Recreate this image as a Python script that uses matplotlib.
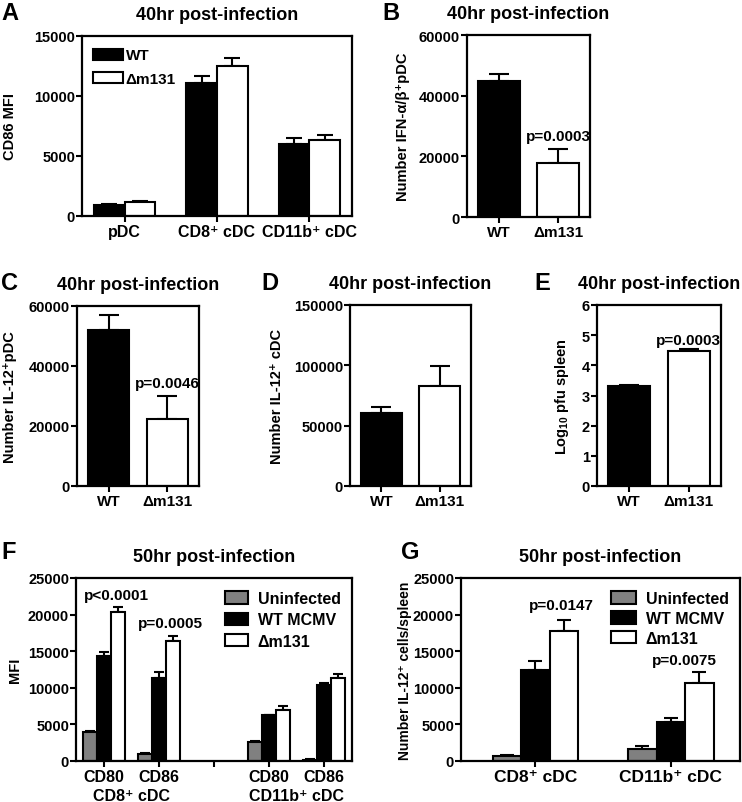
import matplotlib
matplotlib.use("Agg")
import matplotlib.pyplot as plt
from matplotlib.patches import Patch
import numpy as np

plt.rcParams['font.family'] = ['Liberation Sans', 'DejaVu Sans']
plt.rcParams['font.weight'] = 'bold'
plt.rcParams['axes.labelweight'] = 'bold'
plt.rcParams['axes.titleweight'] = 'bold'
plt.rcParams['mathtext.fontset'] = 'custom'
plt.rcParams['mathtext.rm'] = 'Liberation Sans:bold'
plt.rcParams['mathtext.it'] = 'Liberation Sans:bold'
plt.rcParams['mathtext.bf'] = 'Liberation Sans:bold'
plt.rcParams['mathtext.default'] = 'rm'

# ---------------- data ----------------
title40 = "40hr post-infection"
title50 = "50hr post-infection"

# A
a_cats = ["pDC", "CD8⁺ cDC", "CD11b⁺ cDC"]
a_wt = [950, 11050, 6000]
a_wt_err = [80, 650, 500]
a_mut = [1150, 12500, 6300]
a_mut_err = [80, 660, 450]

# B
b_cats = ["WT", "Δm131"]
b_vals = [44800, 17800]
b_err = [2300, 4700]
b_p = "p=0.0003"

# C
c_cats = ["WT", "Δm131"]
c_vals = [52000, 22500]
c_err = [4900, 7500]
c_p = "p=0.0046"

# D
d_cats = ["WT", "Δm131"]
d_vals = [60600, 82700]
d_err = [4700, 17100]

# E
e_cats = ["WT", "Δm131"]
e_vals = [3.33, 4.48]
e_err = [0.03, 0.07]
e_p = "p=0.0003"

# F
f_cats = ["CD80", "CD86", "", "CD80", "CD86"]
f_groups = ["CD8⁺ cDC", "CD11b⁺ cDC"]
f_uninf = [3950, 1000, np.nan, 2650, 180]
f_uninf_err = [120, 80, np.nan, 100, 30]
f_wt = [14400, 11400, np.nan, 6250, 10400]
f_wt_err = [450, 700, np.nan, 100, 300]
f_mut = [20400, 16400, np.nan, 7000, 11300]
f_mut_err = [700, 700, np.nan, 450, 600]
f_p = ["p<0.0001", "p=0.0005"]

# G
g_cats = ["CD8⁺ cDC", "CD11b⁺ cDC"]
g_uninf = [680, 1600]
g_uninf_err = [140, 500]
g_wt = [12500, 5300]
g_wt_err = [1200, 600]
g_mut = [17800, 10600]
g_mut_err = [1500, 1600]
g_p = ["p=0.0147", "p=0.0075"]

series_labels_A = ["WT", "Δm131"]
series_labels_FG = ["Uninfected", "WT MCMV", "Δm131"]
GRAY = "#808080"

W, H = 742, 803
fig = plt.figure(figsize=(W / 100, H / 100), dpi=100)

YT = 10.5
XT = 11.5
PFS = 11


def make_ax(l, r, t, b):
    return fig.add_axes([l / W, 1 - b / H, (r - l) / W, (b - t) / H])


def style(ax, ytick_fs=YT, xtick_fs=XT):
    for s in ax.spines.values():
        s.set_linewidth(1.6)
    ax.tick_params(axis='both', width=1.5, length=4, direction='out')
    ax.tick_params(axis='y', labelsize=ytick_fs, pad=1)
    ax.tick_params(axis='x', labelsize=xtick_fs, pad=2)
    for lab in ax.get_yticklabels() + ax.get_xticklabels():
        lab.set_fontweight('bold')


def ylab(ax, text, center_px, left_px, width_px, fs=10.5):
    ax.set_ylabel(text, fontsize=fs)
    ax.yaxis.label.set_verticalalignment('center')
    ax.yaxis.set_label_coords((center_px - left_px) / width_px, 0.5)


def bars(ax, x, vals, errs, width, color, capsize):
    ax.bar(x, vals, width, color=color, edgecolor='black', linewidth=1.5, zorder=2)
    ax.errorbar(x, vals, yerr=[np.zeros(len(vals)), errs], fmt='none',
                ecolor='black', elinewidth=1.5, capsize=capsize, capthick=1.5, zorder=1)


def letter(x, y, s):
    fig.text(x / W, 1 - y / H, s, fontsize=17, fontweight='bold', va='top', ha='left')


# ---------- A ----------
ax = make_ax(82, 352, 37, 217)
x = np.arange(len(a_cats))
w = 0.33
bars(ax, x - w / 2, a_wt, a_wt_err, w, 'black', 5.5)
bars(ax, x + w / 2, a_mut, a_mut_err, w, 'white', 5.5)
ax.set_xlim(-0.46, 2.46)
ax.set_ylim(0, 15000)
ax.set_yticks([0, 5000, 10000, 15000])
ax.set_xticks(x)
ax.set_xticklabels(a_cats)
ylab(ax, "CD86 MFI", 10, 82, 270)
ax.set_title(title40, fontsize=13, pad=12)
h = [Patch(facecolor='black', edgecolor='black', linewidth=1.5),
     Patch(facecolor='white', edgecolor='black', linewidth=1.5)]
ax.legend(h, series_labels_A, loc='upper left', frameon=False, fontsize=11,
          handlelength=2.0, handleheight=0.75, handletextpad=0.15, labelspacing=0.6,
          borderaxespad=0.3, bbox_to_anchor=(0.0, 0.99))
style(ax)
letter(1, 2, "A")


def two_bar(ax, cats, vals, errs, ymax, yticks, ylabel, box, lab_c, p=None, p_y=None):
    x = np.arange(2)
    bars(ax, x, vals, errs, 0.7, ['black', 'white'], 7.5)
    ax.set_xlim(-0.54, 1.54)
    ax.set_ylim(0, ymax)
    ax.set_yticks(yticks)
    ax.set_xticks(x)
    ax.set_xticklabels(cats)
    ylab(ax, ylabel, lab_c, box[0], box[1] - box[0])
    ax.set_title(title40, fontsize=13, pad=12)
    if p:
        ax.text(1, p_y, p, ha='center', va='bottom', fontsize=PFS, fontweight='bold')
    style(ax, xtick_fs=11)


# ---------- B ----------
box = (467, 590, 36, 218)
ax = make_ax(*box)
two_bar(ax, b_cats, b_vals, b_err, 60000, [0, 20000, 40000, 60000],
        "Number IFN-α/β⁺pDC", box, 403, b_p, 24500)
letter(382, 2, "B")

# ---------- C ----------
box = (77, 199, 307, 487)
ax = make_ax(*box)
two_bar(ax, c_cats, c_vals, c_err, 60000, [0, 20000, 40000, 60000],
        "Number IL-12⁺pDC", box, 10, c_p, 32000)
letter(1, 272, "C")

# ---------- D ----------
box = (350, 471, 306, 487)
ax = make_ax(*box)
two_bar(ax, d_cats, d_vals, d_err, 150000, [0, 50000, 100000, 150000],
        "Number IL-12⁺ cDC", box, 277)
letter(261, 272, "D")

# ---------- E ----------
box = (597, 721, 306, 487)
ax = make_ax(*box)
two_bar(ax, e_cats, e_vals, e_err, 6, [0, 1, 2, 3, 4, 5, 6],
        "Log$_{10}$ pfu spleen", box, 562, e_p, 4.62)
letter(534, 272, "E")

# ---------- F ----------
ax = make_ax(76, 352, 579, 762)
x = np.arange(len(f_cats))
w = 0.26
bars(ax, x - w, f_uninf, f_uninf_err, w, GRAY, 3.5)
bars(ax, x, f_wt, f_wt_err, w, 'black', 3.5)
bars(ax, x + w, f_mut, f_mut_err, w, 'white', 3.5)
ax.set_xlim(-0.51, 4.51)
ax.set_ylim(0, 25000)
ax.set_yticks([0, 5000, 10000, 15000, 20000, 25000])
ax.set_xticks(x)
ax.set_xticklabels(f_cats)
ylab(ax, "MFI", 15, 76, 276)
ax.set_title(title50, fontsize=13, pad=12)
for gx, gl in zip([0.5, 3.5], f_groups):
    ax.text(gx, -0.213, gl, transform=ax.get_xaxis_transform(), ha='center', va='baseline',
            fontsize=11.5, fontweight='bold')
ax.text(0.22, 21700, f_p[0], ha='center', va='bottom', fontsize=PFS, fontweight='bold')
ax.text(1.2, 17900, f_p[1], ha='center', va='bottom', fontsize=PFS, fontweight='bold')
hf = [Patch(facecolor=GRAY, edgecolor='black', linewidth=1.5),
      Patch(facecolor='black', edgecolor='black', linewidth=1.5),
      Patch(facecolor='white', edgecolor='black', linewidth=1.5)]
ax.legend(hf, series_labels_FG, loc='upper right', frameon=False, fontsize=11.5,
          handlelength=1.45, handleheight=0.8, handletextpad=0.6, labelspacing=0.4,
          borderaxespad=0.3, bbox_to_anchor=(1.0, 0.99))
style(ax)
letter(1, 541, "F")

# ---------- G ----------
ax = make_ax(461, 740, 579, 762)
x = np.arange(len(g_cats))
w = 0.21
bars(ax, x - w, g_uninf, g_uninf_err, w, GRAY, 5.0)
bars(ax, x, g_wt, g_wt_err, w, 'black', 5.0)
bars(ax, x + w, g_mut, g_mut_err, w, 'white', 5.0)
ax.set_xlim(-0.55, 1.51)
ax.set_ylim(0, 25000)
ax.set_yticks([0, 5000, 10000, 15000, 20000, 25000])
ax.set_xticks(x)
ax.set_xticklabels(g_cats)
ylab(ax, "Number IL-12⁺ cells/spleen", 405, 461, 279, fs=10)
ax.set_title(title50, fontsize=13, pad=12)
ax.text(0.19, 20400, g_p[0], ha='center', va='bottom', fontsize=PFS, fontweight='bold')
ax.text(1.10, 12900, g_p[1], ha='center', va='bottom', fontsize=PFS, fontweight='bold')
ax.legend(hf, series_labels_FG, loc='upper right', frameon=False, fontsize=11.5,
          handlelength=1.6, handleheight=0.85, handletextpad=0.6, labelspacing=0.3,
          borderaxespad=0.3, bbox_to_anchor=(1.0, 0.99))
style(ax, xtick_fs=12.5)
letter(401, 541, "G")

fig.savefig("out.png", dpi=100)
